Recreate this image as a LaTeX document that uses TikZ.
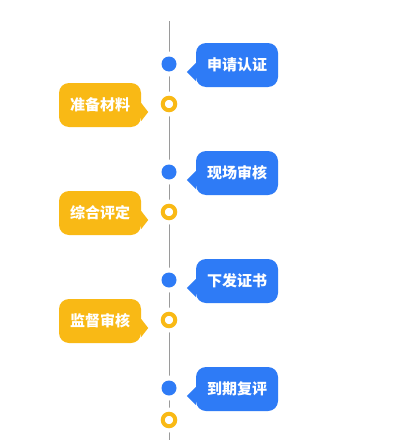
\documentclass[tikz,border=0pt]{standalone}
\usepackage{fontspec}
\usepackage{tikz}
\usetikzlibrary{positioning}
\newfontfamily\cjk{Noto Sans CJK SC}
\definecolor{stepblue}{HTML}{2E7BF6}
\definecolor{stepyellow}{HTML}{F9B915}
\definecolor{axisgray}{HTML}{9A9A9A}

\tikzset{
  bluebox/.style={fill=stepblue, text=white, rounded corners=10pt,
    minimum width=82pt, minimum height=44pt, inner sep=0pt,
    font=\cjk\bfseries\fontsize{15pt}{17pt}\selectfont},
  yellowbox/.style={bluebox, fill=stepyellow},
  dotgap/.style={circle, fill=white, minimum size=25pt, inner sep=0pt},
  bluedot/.style={circle, fill=stepblue, minimum size=15pt, inner sep=0pt},
  yellowring/.style={circle, fill=white, draw=stepyellow, line width=4pt,
    minimum size=12.5pt, inner sep=0pt}
}

\begin{document}
\begin{tikzpicture}[x=1pt,y=-1pt]
    \useasboundingbox[fill=white] (0,0) rectangle (411,447);
    % timeline axis
    \coordinate (top) at (169,21);
    \coordinate (bottom) at (169,440);
    \draw[axisgray, line width=1pt] (top) -- (bottom);

    % blue steps on the right
    \foreach \i/\y/\txt in {1/64/申请认证, 2/172/现场审核, 3/280/下发证书, 4/388/到期复评} {
      \node[dotgap] at (169,\y) {};
      \node[bluedot] (bd\i) at (169,\y) {};
      \node[bluebox] (bb\i) at (237,\y+1) {\txt};
      \fill[stepblue] ([yshift=-16pt]bb\i.west) -- ([xshift=-9pt,yshift=-7pt]bb\i.west)
        -- ([yshift=2pt]bb\i.west) -- cycle;
    }

    % yellow rings on the axis
    \foreach \i/\y in {1/104, 2/212, 3/320, 4/420} {
      \node[dotgap] at (169,\y) {};
      \node[yellowring] (yr\i) at (169,\y) {};
    }
    % yellow steps on the left
    \foreach \i/\y/\txt in {1/104/准备材料, 2/212/综合评定, 3/320/监督审核} {
      \node[yellowbox] (yb\i) at (100,\y+1) {\txt};
      \fill[stepyellow] ([yshift=-16pt]yb\i.east) -- ([xshift=7pt,yshift=-7pt]yb\i.east)
        -- ([yshift=2pt]yb\i.east) -- cycle;
    }
\end{tikzpicture}
\end{document}
